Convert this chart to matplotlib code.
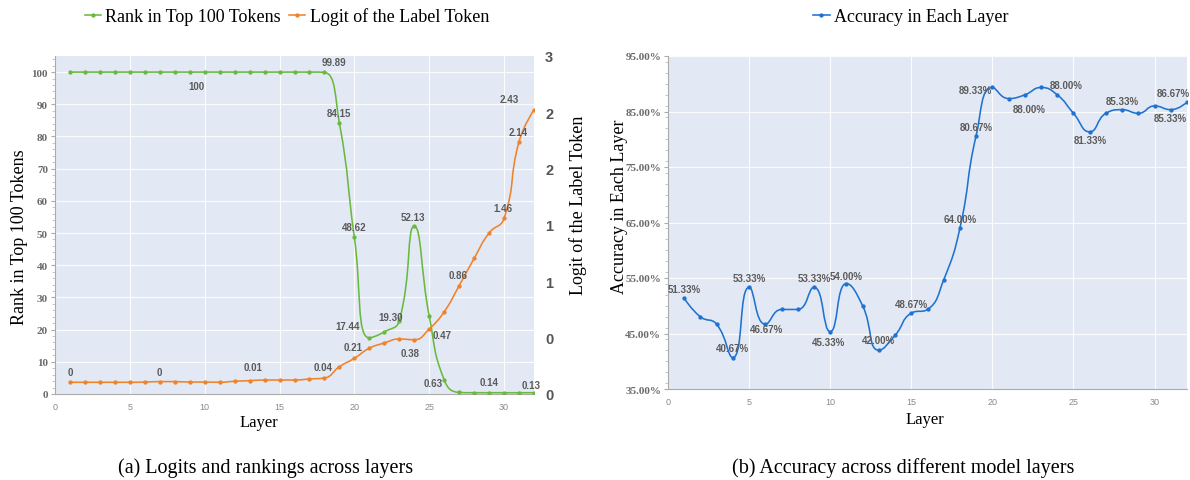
"""
two panels side by side:
  (a) rank of the label token (left axis) and its logit (right axis) per layer
  (b) probing accuracy per layer

    python plot.py   -> out.png
"""

import matplotlib
matplotlib.use("Agg")
import matplotlib.pyplot as plt
from matplotlib.path import Path
from matplotlib.patches import PathPatch
from matplotlib.lines import Line2D
from matplotlib.ticker import MultipleLocator, FuncFormatter

# ---- data ----
layers = list(range(1, 33))

rank_top100 = [100, 100, 100, 100, 100, 100, 100, 100, 100, 100,
               100, 100, 100, 100, 100, 100, 100, 99.89, 84.15, 48.62,
               17.44, 19.30, 22.8, 52.13, 24.2, 4.4, 0.5, 0.4,
               0.4, 0.4, 0.4, 0.4]

label_logit = [0.104, 0.104, 0.104, 0.104, 0.104, 0.106, 0.110, 0.110, 0.106, 0.106,
               0.104, 0.113, 0.118, 0.124, 0.124, 0.124, 0.133, 0.142, 0.242, 0.317,
               0.406, 0.453, 0.488, 0.482, 0.577, 0.730, 0.961, 1.204, 1.429, 1.559,
               2.239, 2.523]

accuracy = [51.33, 48.00, 46.67, 40.67, 53.33, 46.67, 49.33, 49.33, 53.33, 45.33,
            54.00, 50.00, 42.00, 44.67, 48.67, 49.33, 54.67, 64.00, 80.67, 89.33,
            87.33, 88.00, 89.33, 88.00, 84.67, 81.33, 84.67, 85.33, 84.67, 86.00,
            85.33, 86.67]

# value labels: (layer, text)
rank_labels = [(9, "100"), (18, "99.89"), (19, "84.15"), (20, "48.62"), (21, "17.44"),
               (22, "19.30"), (24, "52.13"), (26, "0.63"), (29, "0.14"), (32, "0.13")]
logit_labels = [(1, "0"), (7, "0"), (13, "0.01"), (18, "0.04"), (20, "0.21"), (24, "0.38"),
                (25, "0.47"), (27, "0.86"), (30, "1.46"), (31, "2.14"), (32, "2.43")]
acc_labels = [(1, "51.33%"), (4, "40.67%"), (5, "53.33%"), (6, "46.67%"), (9, "53.33%"),
              (10, "45.33%"), (11, "54.00%"), (13, "42.00%"), (15, "48.67%"), (18, "64.00%"),
              (19, "80.67%"), (20, "89.33%"), (22, "88.00%"), (23, "88.00%"), (26, "81.33%"),
              (28, "85.33%"), (31, "85.33%"), (32, "86.67%")]

# pixel offsets of the labels from their points (dx, dy), same order as above
rank_off = [(7, -14), (9, 10), (0, 10), (0, 10), (-22, 12), (6, 15), (-1, 9), (-11, -3), (0, 11), (-3, 8)]
logit_off = [(0, 10), (0, 10), (3, 14), (-1, 11), (-1, 11), (-4, -13), (13, -6), (-1, 11), (-1, 10), (-1, 10), (-25, 11)]
acc_off = [(0, 9), (0, 10), (0, 9), (1, -5), (0, 9), (-2, -10), (0, 8), (0, 10), (0, 9), (0, 9),
           (0, 9), (-17, -3), (4, -14), (25, 2), (1, -8), (0, 9), (0, -8), (-14, 9)]

GREEN = "#6ab93f"
ORANGE = "#f0822a"
BLUE = "#1f72d0"
BG = "#e3e9f4"
LABEL_C = "#5a5a5a"
SERIF = "Liberation Serif"
SANS = "Liberation Sans"
MS = 2.1
LW = 1.15


def smooth_line(ax, xs, ys, sx, sy, color, smooth=0.5):
    # echarts-style smooth line: cubic beziers, control points worked out in pixel space
    pts = [(x * sx, y * sy) for x, y in zip(xs, ys)]
    verts = [pts[0]]
    codes = [Path.MOVETO]
    cp0 = pts[0]
    n = len(pts)
    for k in range(1, n):
        px, py = pts[k - 1]
        x, y = pts[k]
        if k == n - 1:
            cp1 = (x, y)
            nxt = (x, y)
        else:
            nx, ny = pts[k + 1]
            vx, vy = nx - px, ny - py
            lp = ((x - px) ** 2 + (y - py) ** 2) ** 0.5
            ln = ((nx - x) ** 2 + (ny - y) ** 2) ** 0.5
            r = ln / (ln + lp)
            ncx = x + vx * smooth * r
            ncy = y + vy * smooth * r
            ncx = max(min(ncx, max(nx, x)), min(nx, x))
            ncy = max(min(ncy, max(ny, y)), min(ny, y))
            vx, vy = ncx - x, ncy - y
            c1x = x - vx * lp / ln
            c1y = y - vy * lp / ln
            c1x = max(min(c1x, max(px, x)), min(px, x))
            c1y = max(min(c1y, max(py, y)), min(py, y))
            vx, vy = x - c1x, y - c1y
            nxt = (x + vx * ln / lp, y + vy * ln / lp)
            cp1 = (c1x, c1y)
        verts += [cp0, cp1, (x, y)]
        codes += [Path.CURVE4] * 3
        cp0 = nxt
    verts = [(vx_ / sx, vy_ / sy) for vx_, vy_ in verts]
    ax.add_patch(PathPatch(Path(verts, codes), fill=False, edgecolor=color, lw=LW, zorder=3))
    ax.plot(xs, ys, "o", ms=MS, color=color, zorder=4)


def put_labels(ax, labels, offs, ys):
    for (layer, txt), (dx, dy) in zip(labels, offs):
        ax.annotate(txt, (layer, ys[layer - 1]), xytext=(dx, dy), textcoords="offset pixels",
                    ha="center", va="center", fontsize=7, fontweight="bold",
                    color=LABEL_C, family=SANS, zorder=5)


def style_axes(ax):
    ax.set_facecolor(BG)
    for s in ["top", "right"]:
        ax.spines[s].set_visible(False)
    for s in ["left", "bottom"]:
        ax.spines[s].set_color("#aaaaaa")
        ax.spines[s].set_linewidth(0.8)
    ax.set_xlim(0, 32)
    ax.xaxis.set_major_locator(MultipleLocator(5))
    ax.grid(True, color="white", lw=0.8, alpha=0.9)
    ax.set_axisbelow(True)
    ax.tick_params(axis="x", length=0, labelsize=6.5, labelcolor="#8a8a8a", pad=6)
    ax.tick_params(axis="y", which="major", length=3, color="#aaaaaa", labelsize=8,
                   labelcolor="#6a6a6a", pad=2)
    ax.tick_params(axis="y", which="minor", length=2, color="#bbbbbb")


fig = plt.figure(figsize=(11.9, 4.81), dpi=100)

# ---- (a) ----
ax = fig.add_axes([55 / 1190, 1 - 395 / 481, 479 / 1190, 338 / 481])
style_axes(ax)
ax.set_ylim(0, 105)
ax.yaxis.set_minor_locator(MultipleLocator(2))
ax.set_yticks(range(0, 101, 10))
ax.set_xticks(range(0, 31, 5))
for t in ax.get_yticklabels():
    t.set_family(SERIF)
    t.set_fontweight("bold")
for t in ax.get_xticklabels():
    t.set_family(SANS)

ax2 = ax.twinx()
ax2.set_ylim(0, 3)
for s in ax2.spines.values():
    s.set_visible(False)
ax2.set_yticks([0, 0.5, 1, 1.5, 2, 2.5, 3])
ax2.set_yticklabels(["0", "0", "1", "1", "2", "2", "3"])
ax2.tick_params(axis="y", length=0, labelsize=10.5, labelcolor="#555555", pad=8)
for t in ax2.get_yticklabels():
    t.set_family(SANS)
    t.set_fontweight("bold")

smooth_line(ax, layers, rank_top100, 15.0, 3.21, GREEN)
smooth_line(ax2, layers, label_logit, 15.0, 112.7, ORANGE)
put_labels(ax, rank_labels, rank_off, rank_top100)
put_labels(ax2, logit_labels, logit_off, label_logit)

fig.text(20 / 1190, 1 - 237 / 481, "Rank in Top 100 Tokens", rotation=90, ha="center", va="center",
         family=SERIF, fontsize=13)
fig.text(578 / 1190, 1 - 205 / 481, "Logit of the Label Token", rotation=90, ha="center", va="center",
         family=SERIF, fontsize=13)
fig.text(259 / 1190, 1 - 423 / 481, "Layer", ha="center", va="center", family=SERIF, fontsize=12)
fig.text(266 / 1190, 1 - 468 / 481, "(a) Logits and rankings across layers", ha="center", va="center",
         family=SERIF, fontsize=14.5)

h_green = Line2D([], [], color=GREEN, marker="o", ms=MS, lw=LW)
h_orange = Line2D([], [], color=ORANGE, marker="o", ms=MS, lw=LW)
fig.legend([h_green, h_orange], ["Rank in Top 100 Tokens", "Logit of the Label Token"],
           loc="center", bbox_to_anchor=(287 / 1190, 1 - 17 / 481), ncol=2, frameon=False,
           prop={"family": SERIF, "size": 13}, handlelength=0.9, handletextpad=0.25,
           columnspacing=0.45, borderpad=0)

# ---- (b) ----
bx = fig.add_axes([668 / 1190, 1 - 390 / 481, 519 / 1190, 333 / 481])
style_axes(bx)
bx.set_ylim(35, 95)
bx.yaxis.set_minor_locator(MultipleLocator(2))
bx.set_yticks(range(35, 96, 10))
bx.yaxis.set_major_formatter(FuncFormatter(lambda v, p: f"{v:.2f}%"))
bx.set_xticks(range(0, 31, 5))
for t in bx.get_yticklabels():
    t.set_family(SERIF)
    t.set_fontweight("bold")
for t in bx.get_xticklabels():
    t.set_family(SANS)

smooth_line(bx, layers, accuracy, 16.19, 5.545, BLUE)
put_labels(bx, acc_labels, acc_off, accuracy)

fig.text(620 / 1190, 1 - 207 / 481, "Accuracy in Each Layer", rotation=90, ha="center", va="center",
         family=SERIF, fontsize=13)
fig.text(925 / 1190, 1 - 420 / 481, "Layer", ha="center", va="center", family=SERIF, fontsize=12)
fig.text(903 / 1190, 1 - 468 / 481, "(b) Accuracy across different model layers", ha="center",
         va="center", family=SERIF, fontsize=14.5)

h_blue = Line2D([], [], color=BLUE, marker="o", ms=MS, lw=LW)
fig.legend([h_blue], ["Accuracy in Each Layer"], loc="center",
           bbox_to_anchor=(911 / 1190, 1 - 18 / 481), frameon=False,
           prop={"family": SERIF, "size": 13}, handlelength=0.9, handletextpad=0.25, borderpad=0)

fig.savefig("out.png", dpi=100)
